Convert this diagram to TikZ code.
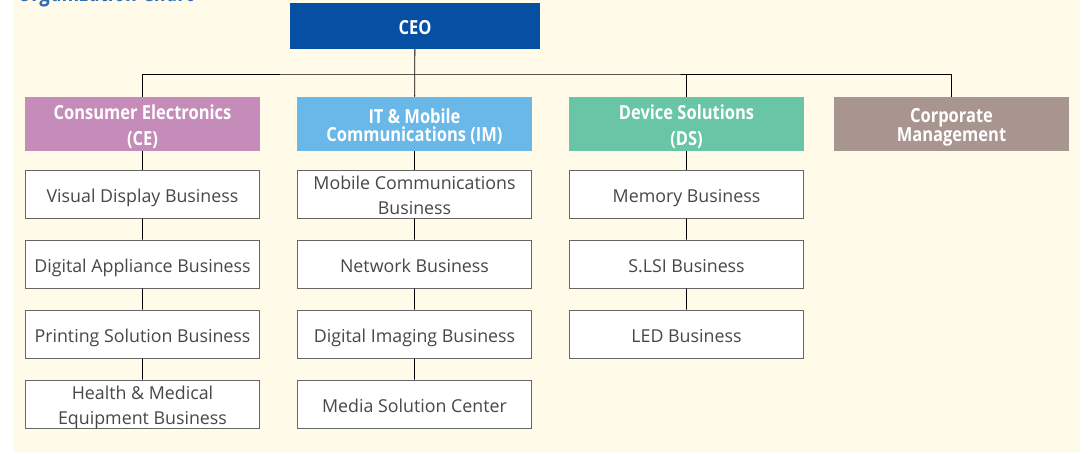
\documentclass[tikz,border=0pt]{standalone}
\usepackage{fontspec}
\setmainfont{Open Sans}
\newfontfamily\headfont{Open Sans}[FakeStretch=0.85]
\usepackage{tikz}
\usetikzlibrary{positioning}
\definecolor{cream}{HTML}{FFFBE8}
\definecolor{ceoblue}{HTML}{0650A4}
\definecolor{cepink}{HTML}{C68CB9}
\definecolor{imblue}{HTML}{69B8E7}
\definecolor{dsgreen}{HTML}{68C5A5}
\definecolor{cmgray}{HTML}{A8958F}
\definecolor{titleblue}{HTML}{2F6DB5}

\begin{document}
\begin{tikzpicture}[x=1pt, y=-1pt, level distance=70pt, font=\fontsize{17.8}{25}\selectfont,
    head/.style={fill=#1, text=white, minimum width=235pt, minimum height=54.5pt, inner sep=0pt, align=center, text height=42pt, text depth=0pt, font=\headfont\fontsize{19.4}{26}\selectfont\bfseries},
    tighthead/.style={text height=36pt, text depth=0.6pt, font=\headfont\fontsize{19.4}{18}\selectfont\bfseries},
    unit/.style={draw=black!60, line width=1pt, fill=white, text=black!72, minimum width=234pt, minimum height=48pt, inner sep=0pt, align=center, text height=17pt, text depth=0pt},
    twoline/.style={text height=42pt, text depth=1pt},
    every child node/.style={unit},
    edge from parent/.style={draw, line width=.8pt},
    link/.style={line width=.8pt}]
	\useasboundingbox (0,0) rectangle (1088,453);
	\fill[cream] (14,0) rectangle (1080,452);
	\begin{scope}
	\clip (0,0) rectangle (1088,453);
	\node (title) [anchor=base west, text=titleblue, font=\headfont\fontsize{23}{23}\selectfont\bfseries\itshape, inner sep=0pt] at (18,1) {Organization Chart};
	\end{scope}
    \node (CEO) [head=ceoblue, minimum width=250pt, minimum height=46pt, text height=16.6pt, text depth=0pt] at (415,26) {CEO};
    \coordinate (bus) at (415,74);
    \node (CE) [head=cepink] at (142.5,124) {Consumer Electronics\\(CE)}
      child {node (VD) {Visual Display Business}
        child {node (DA) {Digital Appliance Business}
          child {node (PS) {Printing Solution Business}
            child {node (HM) [twoline] {Health \& Medical\\Equipment Business}}}}};
    \node (IM) [head=imblue, tighthead] at (414.5,124) {IT \& Mobile\\Communications (IM)}
      child {node (MC) [twoline] {Mobile Communications\\Business}
        child {node (NB) {Network Business}
          child {node (DI) {Digital Imaging Business}
            child {node (MS) {Media Solution Center}}}}};
    \node (DS) [head=dsgreen] at (686.5,124) {Device Solutions\\(DS)}
      child {node (MB) {Memory Business}
        child {node (LSI) {S.LSI Business}
          child {node (LED) {LED Business}}}};
    \node (CM) [head=cmgray, tighthead] at (951.5,124) {Corporate\\Management};
    % CEO to the four divisions
    \draw[link] (CEO) -- (IM);
    \draw[link] (CE.north) |- (bus) -| (CM.north);
    \draw[link] (DS.north) -- (DS.north |- bus);
\end{tikzpicture}
\end{document}
